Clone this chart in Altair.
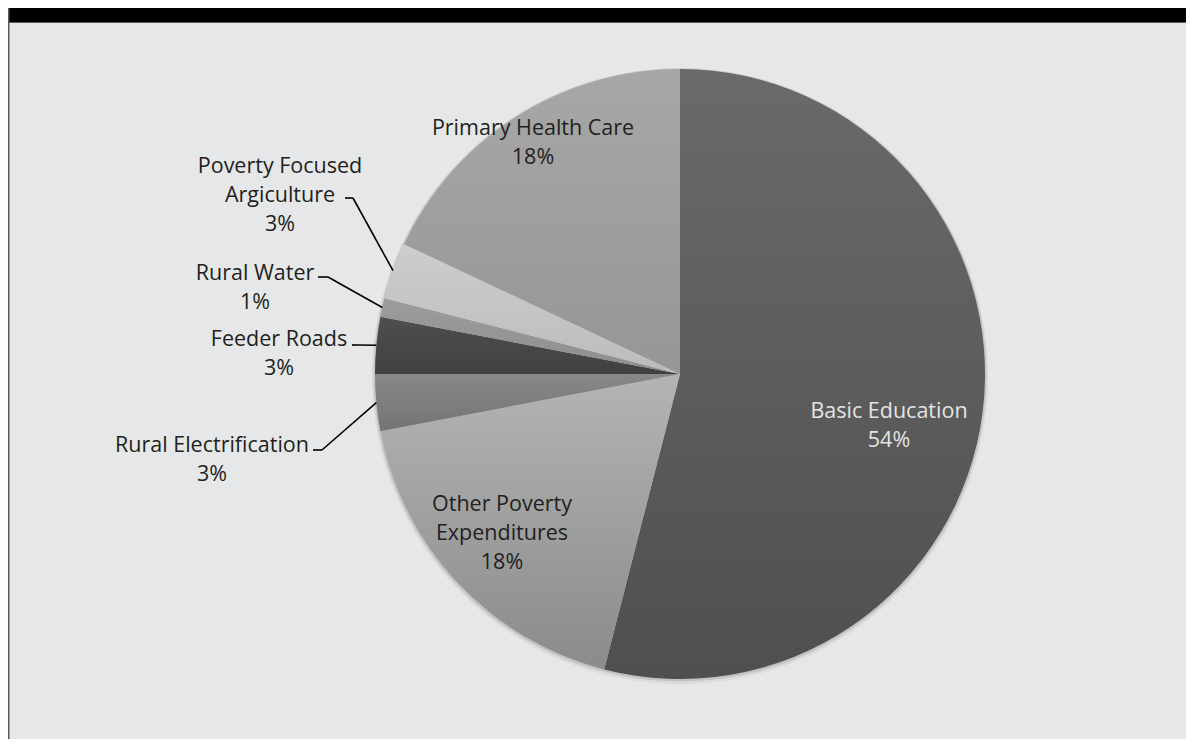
import math
import altair as alt
import pandas as pd

# ---- data ----
categories = [
    "Basic Education",
    "Other Poverty Expenditures",
    "Rural Electrification",
    "Feeder Roads",
    "Rural Water",
    "Poverty Focused Agriculture",
    "Primary Health Care",
]
shares = [54, 18, 3, 3, 1, 3, 18]
name_lines = [
    "Basic Education",
    "Other Poverty|Expenditures",
    "Rural Electrification",
    "Feeder Roads",
    "Rural Water",
    "Poverty Focused|Argiculture",
    "Primary Health Care",
]
pct_labels = ["54%", "18%", "3%", "3%", "1%", "3%", "18%"]

# ---- layout / style (chart pixel space) ----
W, H = 1178, 731
CX, CY, R = 672, 366, 305
FONT = "Open Sans"
FS = 21.5
LH = 29

label_pos = {  # label block centre
    "Basic Education": (881, 418),
    "Other Poverty Expenditures": (494, 526),
    "Rural Electrification": (204, 452),
    "Feeder Roads": (271, 346),
    "Rural Water": (247, 280),
    "Poverty Focused Agriculture": (272, 188),
    "Primary Health Care": (525, 135),
}
leader = {  # elbow point, horizontal end x
    "Rural Electrification": (314, 442, 305),
    "Feeder Roads": (350, 337, 344),
    "Rural Water": (320, 269, 310),
    "Poverty Focused Agriculture": (345, 190, 337),
}
fills = {
    "Basic Education": ("#6a6a6a", "#4f4f4f"),
    "Other Poverty Expenditures": ("#b3b4b4", "#8b8b8b"),
    "Rural Electrification": ("#888888", "#747474"),
    "Feeder Roads": ("#4f4f4f", "#404040"),
    "Rural Water": ("#9c9c9c", "#8e8e8e"),
    "Poverty Focused Agriculture": ("#cdcdcd", "#bcbcbc"),
    "Primary Health Care": ("#a7a7a7", "#969696"),
}
text_color = {"Basic Education": "#e4e4e4"}

df = pd.DataFrame({
    "category": categories,
    "value": shares,
    "order": list(range(len(categories))),
    "names": name_lines,
    "pct": pct_labels,
})
df["lx"] = [label_pos[c][0] for c in categories]
df["ly"] = [label_pos[c][1] for c in categories]
df["ex"] = [leader.get(c, (None, None, None))[0] for c in categories]
df["ey"] = [leader.get(c, (None, None, None))[1] for c in categories]
df["hx"] = [leader.get(c, (None, None, None))[2] for c in categories]
df["tcolor"] = [text_color.get(c, "#231f20") for c in categories]
df["has_leader"] = [c in leader for c in categories]

base = (
    alt.Chart(df)
    .transform_joinaggregate(total="sum(value)")
    .transform_window(cum="sum(value)", sort=[alt.SortField("order")], frame=[None, 0])
    .transform_calculate(
        t0="(datum.cum - datum.value) / datum.total * 2 * PI",
        t1="datum.cum / datum.total * 2 * PI",
    )
    .transform_calculate(
        mid="(datum.t0 + datum.t1) / 2",
        lines="split(datum.names + '|' + datum.pct, '|')",
    )
    .transform_calculate(
        px=f"{CX} + {R} * sin(datum.mid)",
        py=f"{CY} - {R} * cos(datum.mid)",
        ly0=f"datum.ly - (length(datum.lines) - 1) * {LH} / 2",
    )
)

one = base.transform_filter(alt.datum.order == 0)

band = one.mark_rect(color="#000000").encode(
    x=alt.value(0), x2=alt.value(W), y=alt.value(0), y2=alt.value(14)
)
band_line = one.mark_rule(color="#5e5e5e", strokeWidth=1).encode(
    x=alt.value(0), x2=alt.value(W), y=alt.value(14.5)
)
left_border = one.mark_rule(color="#5a5a5a", strokeWidth=2).encode(
    x=alt.value(0.5), y=alt.value(0), y2=alt.value(H)
)

shadow1 = one.mark_arc(theta=0, theta2=2 * math.pi, outerRadius=R + 3, fill="#dadbdc").encode(
    x=alt.value(CX), y=alt.value(CY + 2)
)
shadow2 = one.mark_arc(theta=0, theta2=2 * math.pi, outerRadius=R + 1.5, fill="#c2c3c4").encode(
    x=alt.value(CX), y=alt.value(CY + 1)
)

slices = []
for c in categories:
    top, bot = fills[c]
    grad = alt.LinearGradient(
        gradient="linear",
        x1=0, x2=0, y1=0, y2=1,
        stops=[alt.GradientStop(offset=0, color=top), alt.GradientStop(offset=1, color=bot)],
    )
    slices.append(
        base.transform_filter(alt.datum.category == c)
        .mark_arc(outerRadius=R, fill=grad, strokeWidth=0)
        .encode(
            theta=alt.Theta("t0:Q", scale=None),
            theta2=alt.Theta2("t1:Q"),
            x=alt.value(CX),
            y=alt.value(CY),
            tooltip=["category:N", "value:Q"],
        )
    )

lead = base.transform_filter(alt.datum.has_leader)
seg1 = lead.mark_rule(color="#000000", strokeWidth=1.6).encode(
    x=alt.X("px:Q", scale=None, axis=None),
    y=alt.Y("py:Q", scale=None, axis=None),
    x2="ex:Q",
    y2="ey:Q",
)
seg2 = lead.mark_rule(color="#000000", strokeWidth=1.6).encode(
    x=alt.X("ex:Q", scale=None, axis=None),
    y=alt.Y("ey:Q", scale=None, axis=None),
    x2="hx:Q",
    y2="ey:Q",
)

labels = base.mark_text(
    font=FONT, fontSize=FS, lineHeight=LH, align="center", baseline="middle"
).encode(
    x=alt.X("lx:Q", scale=None, axis=None),
    y=alt.Y("ly0:Q", scale=None, axis=None),
    text="lines:N",
    color=alt.Color("tcolor:N", scale=None),
)

chart = (
    alt.layer(band, band_line, left_border, shadow1, shadow2, *slices, seg1, seg2, labels)
    .properties(width=W, height=H, autosize=alt.AutoSizeParams(type="none"), padding=0,
                background="#e6e7e8")
    .configure_view(stroke=None)
)

chart.save("out.html", embed_options={"renderer": "svg", "actions": False})
